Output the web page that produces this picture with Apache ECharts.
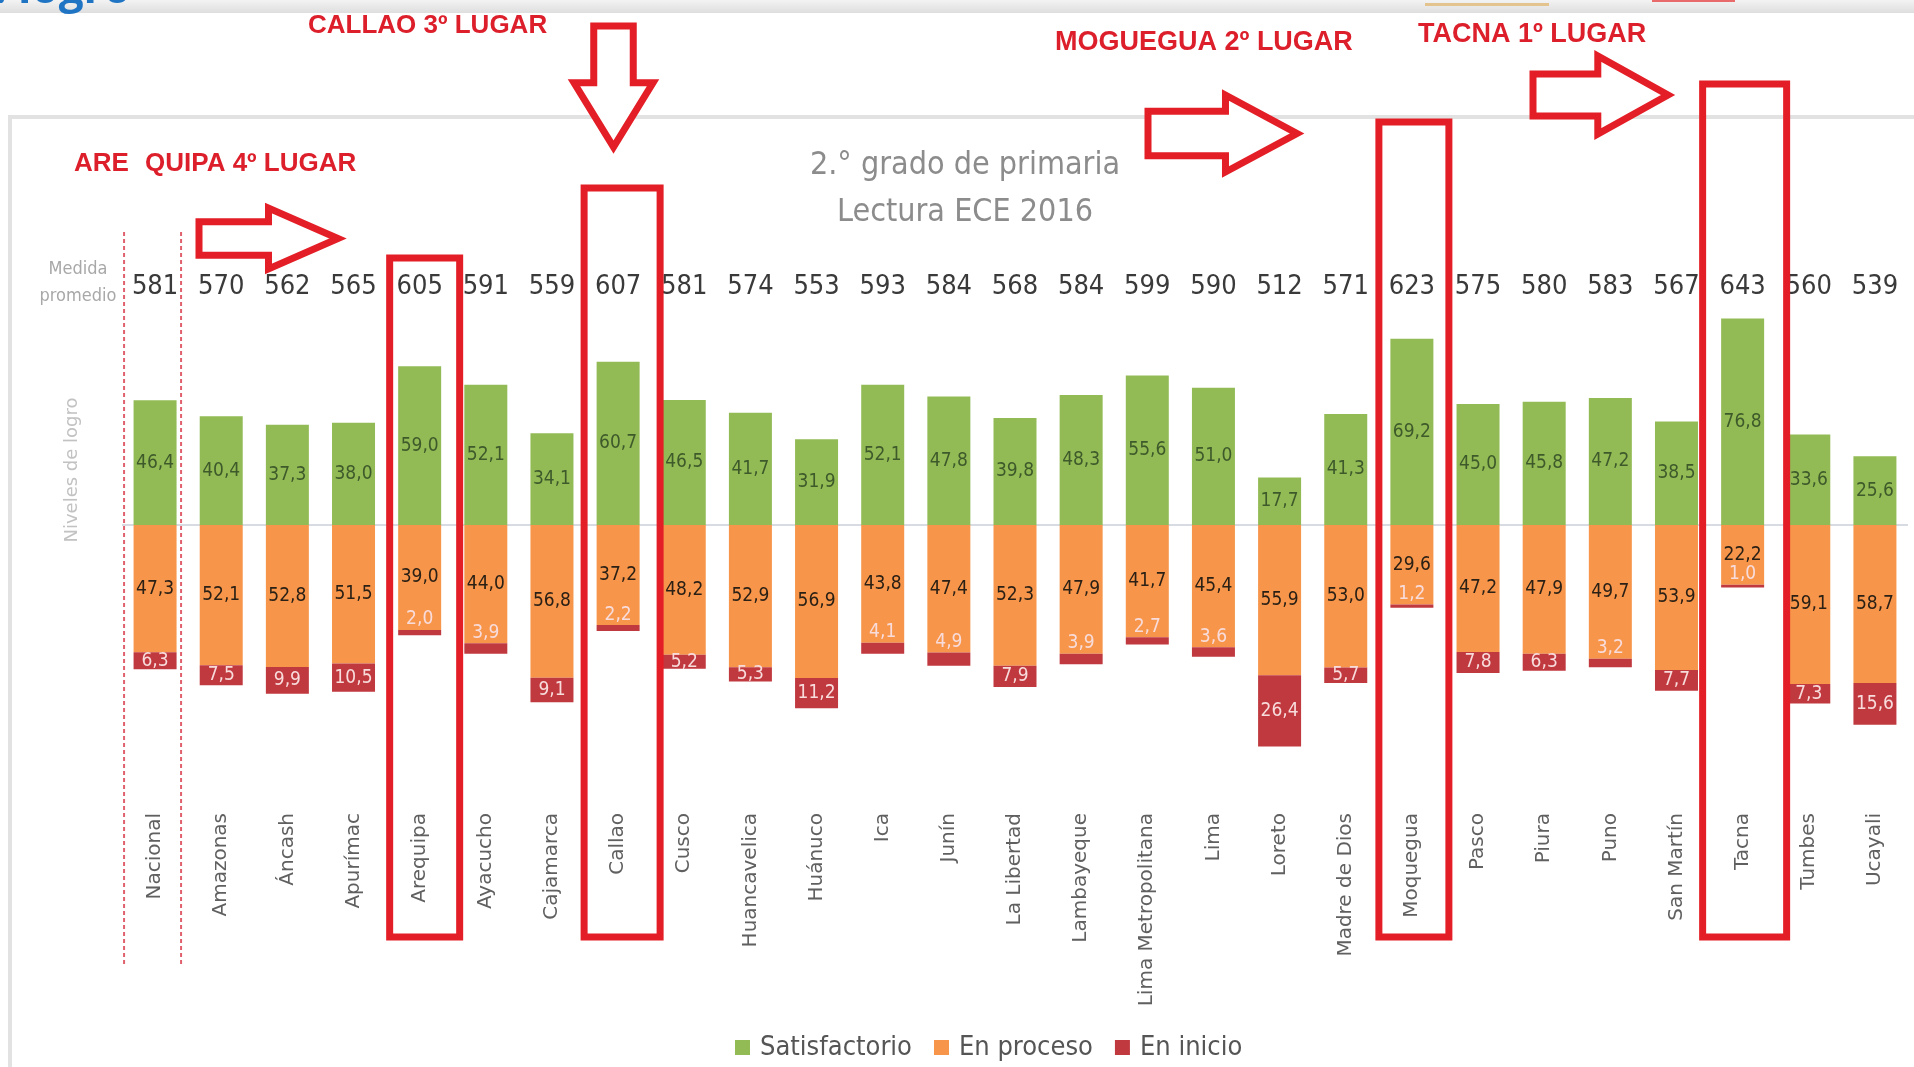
<!DOCTYPE html>
<html>
<head>
    <meta charset="utf-8">
    <title>ECE 2016 - Lectura 2.° grado</title>
    <script src="https://cdn.jsdelivr.net/npm/echarts@6/dist/echarts.min.js"></script>
    <style>html,body{margin:0;padding:0;background:#fff;}</style>
</head>
<body>
    <div id="main" style="width:1914px;height:1067px;"></div>
    <script type="text/javascript">
        // datos
        var regiones = ['Nacional', 'Amazonas', 'Áncash', 'Apurímac', 'Arequipa', 'Ayacucho', 'Cajamarca', 'Callao', 'Cusco',
            'Huancavelica', 'Huánuco', 'Ica', 'Junín', 'La Libertad', 'Lambayeque', 'Lima Metropolitana', 'Lima', 'Loreto',
            'Madre de Dios', 'Moquegua', 'Pasco', 'Piura', 'Puno', 'San Martín', 'Tacna', 'Tumbes', 'Ucayali'];
        var medida = [581, 570, 562, 565, 605, 591, 559, 607, 581, 574, 553, 593, 584, 568, 584, 599, 590, 512, 571, 623,
            575, 580, 583, 567, 643, 560, 539];
        var satisfactorio = [46.4, 40.4, 37.3, 38.0, 59.0, 52.1, 34.1, 60.7, 46.5, 41.7, 31.9, 52.1, 47.8, 39.8, 48.3, 55.6,
            51.0, 17.7, 41.3, 69.2, 45.0, 45.8, 47.2, 38.5, 76.8, 33.6, 25.6];
        var enProceso = [47.3, 52.1, 52.8, 51.5, 39.0, 44.0, 56.8, 37.2, 48.2, 52.9, 56.9, 43.8, 47.4, 52.3, 47.9, 41.7,
            45.4, 55.9, 53.0, 29.6, 47.2, 47.9, 49.7, 53.9, 22.2, 59.1, 58.7];
        var enInicio = [6.3, 7.5, 9.9, 10.5, 2.0, 3.9, 9.1, 2.2, 5.2, 5.3, 11.2, 4.1, 4.9, 7.9, 3.9, 2.7, 3.6, 26.4, 5.7,
            1.2, 7.8, 6.3, 3.2, 7.7, 1.0, 7.3, 15.6];

        var NARROW = "'Liberation Sans Narrow','DejaVu Sans Condensed',sans-serif";
        var ROJO = '#e41e26';

        function fmt(p) {
            return Math.abs(p.value).toFixed(1).replace('.', ',');
        }

        var myChart = echarts.init(document.getElementById('main'));

        var option = {
            animation: false,
            title: {
                text: '2.° grado de primaria\nLectura ECE 2016',
                left: 960,
                top: 137,
                textAlign: 'center',
                textStyle: {fontFamily: NARROW, fontSize: 32, fontWeight: 'normal', color: '#8c8c8c', lineHeight: 47}
            },
            legend: {
                left: 730,
                top: 1029,
                icon: 'rect',
                itemWidth: 15,
                itemHeight: 15,
                itemGap: 22,
                textStyle: {fontFamily: NARROW, fontSize: 27, color: '#555', padding: [0, 0, 0, 5]},
                data: ['Satisfactorio', 'En proceso', 'En inicio']
            },
            grid: {left: 122, right: 6, top: 256, bottom: 273},
            xAxis: [
                {
                    type: 'category',
                    data: regiones,
                    axisLine: {show: false},
                    axisTick: {show: false},
                    axisLabel: {interval: 0, rotate: 90, margin: 19, fontFamily: 'DejaVu Sans', fontSize: 20, color: '#606060'}
                },
                {
                    type: 'category',
                    position: 'top',
                    data: medida,
                    axisLine: {show: false},
                    axisTick: {show: false},
                    axisLabel: {inside: true, interval: 0, margin: 17, fontFamily: NARROW, fontSize: 27, color: '#3a3a3a'}
                }
            ],
            yAxis: {
                type: 'value',
                min: -100,
                max: 100,
                interval: 100,
                axisLine: {show: false},
                axisTick: {show: false},
                axisLabel: {show: false},
                splitLine: {lineStyle: {color: ['rgba(0,0,0,0)', '#d8dce2', 'rgba(0,0,0,0)'], width: 2}}
            },
            series: [
                {
                    name: 'Satisfactorio',
                    type: 'bar',
                    stack: 'n',
                    barWidth: 43,
                    itemStyle: {color: '#92bb55'},
                    label: {show: true, position: 'inside', formatter: fmt, fontFamily: NARROW, fontSize: 19, color: '#3e5a2b'},
                    data: satisfactorio
                },
                {
                    name: 'En proceso',
                    type: 'bar',
                    stack: 'n',
                    barWidth: 43,
                    itemStyle: {color: '#f7964a'},
                    label: {show: true, position: 'inside', formatter: fmt, fontFamily: NARROW, fontSize: 19, color: '#2b2015'},
                    data: enProceso.map(function (v) { return -v; })
                },
                {
                    name: 'En inicio',
                    type: 'bar',
                    stack: 'n',
                    barWidth: 43,
                    itemStyle: {color: '#c0393f'},
                    label: {show: true, position: 'inside', formatter: fmt, fontFamily: NARROW, fontSize: 19, color: '#f8dcdc'},
                    data: enInicio.map(function (v) {
                        // los tramos pequenos llevan la etiqueta encima
                        return v < 5 ? {value: -v, label: {position: 'top', distance: 1}} : -v;
                    })
                }
            ]
        };

        myChart.setOption(option);

        function cx(name) {
            return myChart.convertToPixel({xAxisIndex: 0}, name);
        }

        function flechaDerecha(x, y, w, h, t, s) {
            var cy = y + h / 2, sx = x + w * s, th = h * t / 2;
            return [[x, cy - th], [sx, cy - th], [sx, y], [x + w, cy], [sx, y + h], [sx, cy + th], [x, cy + th]];
        }

        function flechaAbajo(x, y, w, h, t, s) {
            var m = x + w / 2, sy = y + h * s, tw = w * t / 2;
            return [[m - tw, y], [m + tw, y], [m + tw, sy], [x + w, sy], [m, y + h], [x, sy], [m - tw, sy]];
        }

        var g = [];

        // franja superior de la diapositiva
        g.push({type: 'rect', z: -5, shape: {x: 0, y: 0, width: 1914, height: 13},
            style: {fill: new echarts.graphic.LinearGradient(0, 0, 0, 1, [{offset: 0, color: '#f3f3f3'}, {offset: 1, color: '#dedede'}])}});
        g.push({type: 'rect', z: -4, shape: {x: 1425, y: 3, width: 124, height: 3}, style: {fill: '#e3c48e'}});
        g.push({type: 'rect', z: -4, shape: {x: 1652, y: 0, width: 83, height: 2}, style: {fill: '#e86a6a'}});
        g.push({type: 'text', z: -3, style: {text: '. logro', x: -6, y: 12, font: 'bold 44px "Open Sans", sans-serif',
            fill: '#1f74c4', verticalAlign: 'bottom'}});

        // marco del grafico
        g.push({type: 'rect', z: -10, shape: {x: 10, y: 117, width: 1950, height: 1000},
            style: {fill: 'none', stroke: '#e2e2e2', lineWidth: 4}});

        g.push({type: 'text', style: {text: 'Medida\npromedio', x: 78, y: 283, align: 'center', verticalAlign: 'middle',
            font: '18px ' + NARROW, fill: '#a8a8a8', lineHeight: 27}});
        g.push({type: 'text', rotation: Math.PI / 2, x: 72, y: 470,
            style: {text: 'Niveles de logro', align: 'center', verticalAlign: 'middle', font: '18px "DejaVu Sans"', fill: '#c2c2c2'}});

        // separadores de Nacional
        var c0 = cx('Nacional');
        [c0 - 31, c0 + 26].forEach(function (x) {
            g.push({type: 'line', z: 50, shape: {x1: x, y1: 232, x2: x, y2: 964},
                style: {stroke: '#e0606e', lineWidth: 2, lineDash: [4, 3]}});
        });

        // recuadros de los primeros lugares
        var recuadros = [
            {region: 'Arequipa', w: 70, top: 258, dx: 5},
            {region: 'Callao', w: 76, top: 188, dx: 4},
            {region: 'Moquegua', w: 70, top: 122, dx: 2},
            {region: 'Tacna', w: 84, top: 84, dx: 2}
        ];
        recuadros.forEach(function (r) {
            var c = cx(r.region) + r.dx;
            g.push({type: 'rect', z: 100, shape: {x: c - r.w / 2, y: r.top, width: r.w, height: 937 - r.top},
                style: {fill: 'none', stroke: ROJO, lineWidth: 7}});
        });

        var flechas = [
            flechaDerecha(199, 208, 139, 61, 0.55, 0.5),
            flechaAbajo(574, 26, 79, 121, 0.5, 0.47),
            flechaDerecha(1148, 95, 149, 77, 0.58, 0.52),
            flechaDerecha(1533, 56, 135, 78, 0.54, 0.48)
        ];
        flechas.forEach(function (pts) {
            g.push({type: 'polygon', z: 100, shape: {points: pts},
                style: {fill: '#fff', stroke: ROJO, lineWidth: 7, lineJoin: 'miter'}});
        });

        var notas = [
            {text: 'CALLAO 3º LUGAR', x: 308, y: 26, size: 26},
            {text: 'MOGUEGUA 2º LUGAR', x: 1055, y: 43, size: 27},
            {text: 'TACNA 1º LUGAR', x: 1418, y: 35, size: 27},
            {text: 'ARE', x: 74, y: 164, size: 26},
            {text: 'QUIPA 4º LUGAR', x: 145, y: 164, size: 26}
        ];
        notas.forEach(function (n) {
            g.push({type: 'text', z: 100, style: {text: n.text, x: n.x, y: n.y, verticalAlign: 'middle',
                font: 'bold ' + n.size + 'px "Liberation Sans", Arial, sans-serif', fill: '#dc1f2b'}});
        });

        myChart.setOption({graphic: g});
    </script>
</body>
</html>
